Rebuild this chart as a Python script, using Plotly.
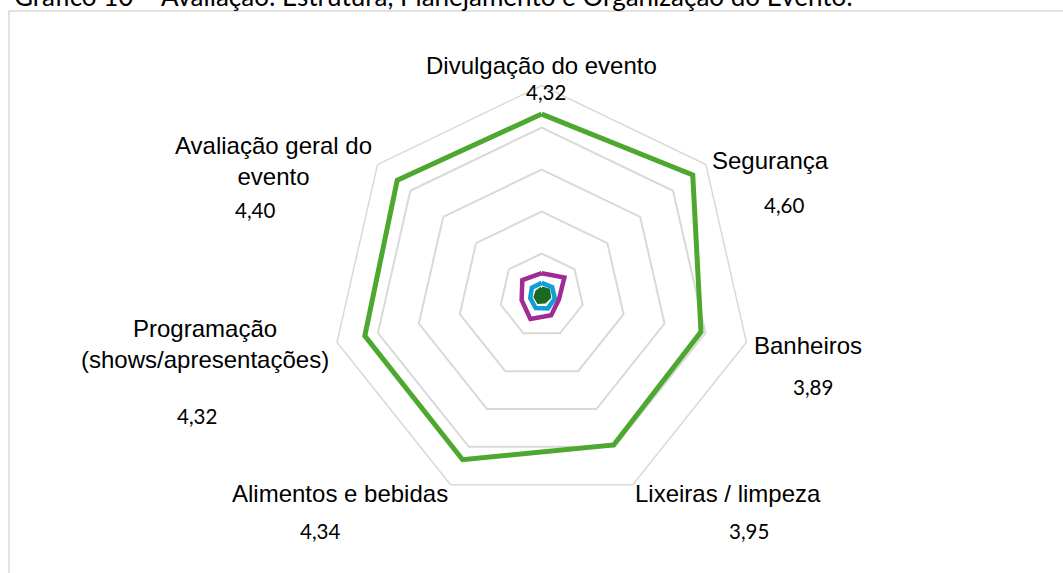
import plotly.graph_objects as go

W, H = 1063, 573

categories = ["Divulgação do evento", "Segurança", "Banheiros", "Lixeiras / limpeza",
              "Alimentos e bebidas", "Programação (shows/apresentações)", "Avaliação geral do evento"]
display_labels = ["Divulgação do evento", "Segurança", "Banheiros", "Lixeiras / limpeza",
                  "Alimentos e bebidas", "Programação<br>(shows/apresentações)", "Avaliação geral do<br>evento"]

media = [4.32, 4.60, 3.89, 3.95, 4.34, 4.32, 4.40]
serie_roxa = [0.53, 0.69, 0.42, 0.52, 0.62, 0.49, 0.59]
serie_azul = [0.30, 0.32, 0.32, 0.34, 0.33, 0.28, 0.30]
serie_verde_escura = [0.17, 0.20, 0.18, 0.16, 0.17, 0.15, 0.14]
serie_laranja = [0.02, 0.02, 0.02, 0.02, 0.02, 0.02, 0.02]

title_text = "Gráfico 10 – Avaliação: Estrutura, Planejamento e Organização do Evento:"

def closed(v):
    return list(v) + [v[0]]

theta = closed(categories)

fig = go.Figure()
fig.add_trace(go.Scatterpolar(r=closed(serie_laranja), theta=theta, mode="lines",
                              line=dict(color="#E97132", width=1.5), showlegend=False))
fig.add_trace(go.Scatterpolar(r=closed(serie_verde_escura), theta=theta, mode="lines",
                              fill="toself", fillcolor="#196B24",
                              line=dict(color="#196B24", width=4), showlegend=False))
fig.add_trace(go.Scatterpolar(r=closed(serie_azul), theta=theta, mode="lines",
                              line=dict(color="#0F9ED5", width=4.5), showlegend=False))
fig.add_trace(go.Scatterpolar(r=closed(serie_roxa), theta=theta, mode="lines",
                              line=dict(color="#A02B93", width=4.5), showlegend=False))
fig.add_trace(go.Scatterpolar(r=closed(media), theta=theta, mode="lines",
                              line=dict(color="#4EA72E", width=5), showlegend=False))

# polar placement (center ~ (541.7, 295.5) px, radius 210 px)
cx, cy, R = 541.7, 295.5, 210
fig.update_layout(
    width=W, height=H,
    margin=dict(l=0, r=0, t=0, b=0),
    paper_bgcolor="white",
    polar=dict(
        domain=dict(x=[(cx - R) / W, (cx + R) / W], y=[(H - cy - R) / H, (H - cy + R) / H]),
        bgcolor="white",
        gridshape="linear",
        radialaxis=dict(range=[0, 5], dtick=1, showticklabels=False, ticks="", showline=False,
                        gridcolor="#D9D9D9", gridwidth=1.5),
        angularaxis=dict(type="category", rotation=90, direction="clockwise",
                         showticklabels=False, ticks="", showgrid=False,
                         showline=True, linecolor="#D9D9D9", linewidth=1.5),
    ),
)

# label positions in pixels (category label center, value label center)
label_pos = [(541.7, 65), (770, 160), (807.5, 345), (728.3, 493), (340, 493), (205, 344), (273, 161)]
value_pos = [(545.8, 92), (783.7, 205), (812.5, 387), (749, 531), (320, 531), (196.7, 416), (255, 210)]

annotations = []
for lab, val, (lx, ly), (vx, vy) in zip(display_labels, media, label_pos, value_pos):
    annotations.append(dict(x=lx / W, y=(H - ly) / H, xref="paper", yref="paper",
                            text=lab, showarrow=False, xanchor="center", yanchor="middle",
                            font=dict(family="Liberation Sans, Arial", size=24, color="#000000")))
    annotations.append(dict(x=vx / W, y=(H - vy) / H, xref="paper", yref="paper",
                            text=f"{val:.2f}".replace(".", ","), showarrow=False,
                            xanchor="center", yanchor="middle",
                            font=dict(family="Lato", size=20.5, color="#000000")))
annotations.append(dict(x=12 / W, y=(H + 3.5) / H, xref="paper", yref="paper", text=title_text,
                        showarrow=False, xanchor="left", yanchor="middle",
                        font=dict(family="Lato", size=26, color="#000000")))
fig.update_layout(annotations=annotations)

fig.add_shape(type="rect", xref="paper", yref="paper",
              x0=9 / W, x1=1.02, y0=-0.02, y1=(H - 11) / H,
              line=dict(color="#D9D9D9", width=1.5), fillcolor="rgba(0,0,0,0)", layer="below")

fig.write_html("out.html", config={"displayModeBar": False},
               post_script="document.body.style.margin='0';document.body.style.padding='0';"
                           "document.body.style.overflow='hidden';")
